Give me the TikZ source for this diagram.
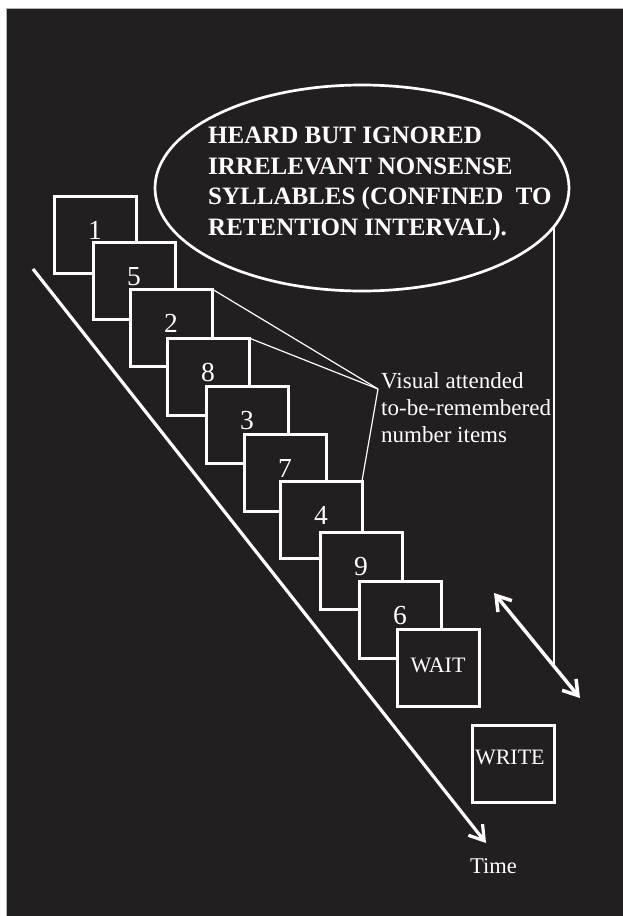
\documentclass[tikz,border=0pt]{standalone}
\usepackage{fontspec}
\setmainfont{Liberation Serif}
\usetikzlibrary{shapes.geometric,arrows.meta}
\definecolor{bg}{HTML}{231F20}
\begin{document}
\begin{tikzpicture}[x=1pt,y=-1pt,
  numbox/.style={draw=white, fill=bg, line width=3pt, minimum width=82pt, minimum height=77pt,
    anchor=north west, outer sep=0pt, inner sep=0pt, text=white,
    font=\fontsize{27.5}{27.5}\selectfont, text depth=9pt},
  wordbox/.style={numbox, font=\fontsize{22}{22}\selectfont},
  headtxt/.style={anchor=base west, inner sep=0pt, text=white, font=\bfseries\fontsize{25}{30}\selectfont},
  notetxt/.style={anchor=base west, inner sep=0pt, text=white, font=\fontsize{23}{27}\selectfont},
  thinline/.style={draw=white, line width=1.2pt},
  tip/.tip={Straight Barb[length=14pt,width=18pt]}
]
\useasboundingbox (0,0) rectangle (623,916);
\fill[white] (0,0) rectangle (623,916);
\filldraw[fill=bg, draw=gray!60, line width=0.6pt] (6,8) rectangle (623,916);

% ellipse with heading
\node[draw=white, line width=2.7pt, ellipse, minimum width=414pt, minimum height=206pt,
  inner sep=0pt, outer sep=0pt] (ell) at (362,188) {};
\node[headtxt] (h1) at (208,143.5) {HEARD BUT IGNORED};
\node[headtxt] (h2) at (208,174.5) {IRRELEVANT NONSENSE};
\node[headtxt] (h3) at (208,204.5) {SYLLABLES (CONFINED\ \ TO};
\node[headtxt] (h4) at (208,235) {RETENTION INTERVAL).};

% time arrow (behind boxes)
\coordinate (ts) at (33,269);
\coordinate (te) at (486,843);
\draw[white, line width=3.2pt, -{tip}] (ts) -- (te);
\node[anchor=base west, inner sep=0pt, text=white, font=\fontsize{22.5}{22.5}\selectfont] (time) at (470,873) {Time};

% stacked boxes
\node[numbox] (n1) at (54,196) {1};
\node[numbox] (n2) at (93,242) {5};
\node[numbox] (n3) at (130,289) {2};
\node[numbox] (n4) at (167,338) {8};
\node[numbox] (n5) at (206,386) {3};
\node[numbox] (n6) at (244,434) {7};
\node[numbox] (n7) at (280,481) {4};
\node[numbox] (n8) at (320,532) {9};
\node[numbox] (n9) at (359,581) {6};
\node[wordbox, text depth=5pt] (n10) at (397,629) {WAIT};
\node[wordbox, text depth=13pt, text width=76pt, align=left] (wr) at (472,725) {WRITE};

% note and connectors
\coordinate (p) at (378,389);
\draw[thinline] (n3.north east) -- (p);
\draw[thinline] (n4.north east) -- (p);
\draw[thinline] (n7.north east) -- (p);
\node[notetxt] (v1) at (381,388) {Visual attended};
\node[notetxt] (v2) at (381,415) {to-be-remembered};
\node[notetxt] (v3) at (381,442) {number items};

% retention interval arrow
\coordinate (a1) at (494,593);
\coordinate (a2) at (580,698);
\coordinate (j) at (554,664);
\draw[white, line width=1.8pt] (j |- ell.-11.3) -- (j);
\draw[white, line width=3.5pt, {tip}-{tip}] (a1) -- (a2);
\end{tikzpicture}
\end{document}
